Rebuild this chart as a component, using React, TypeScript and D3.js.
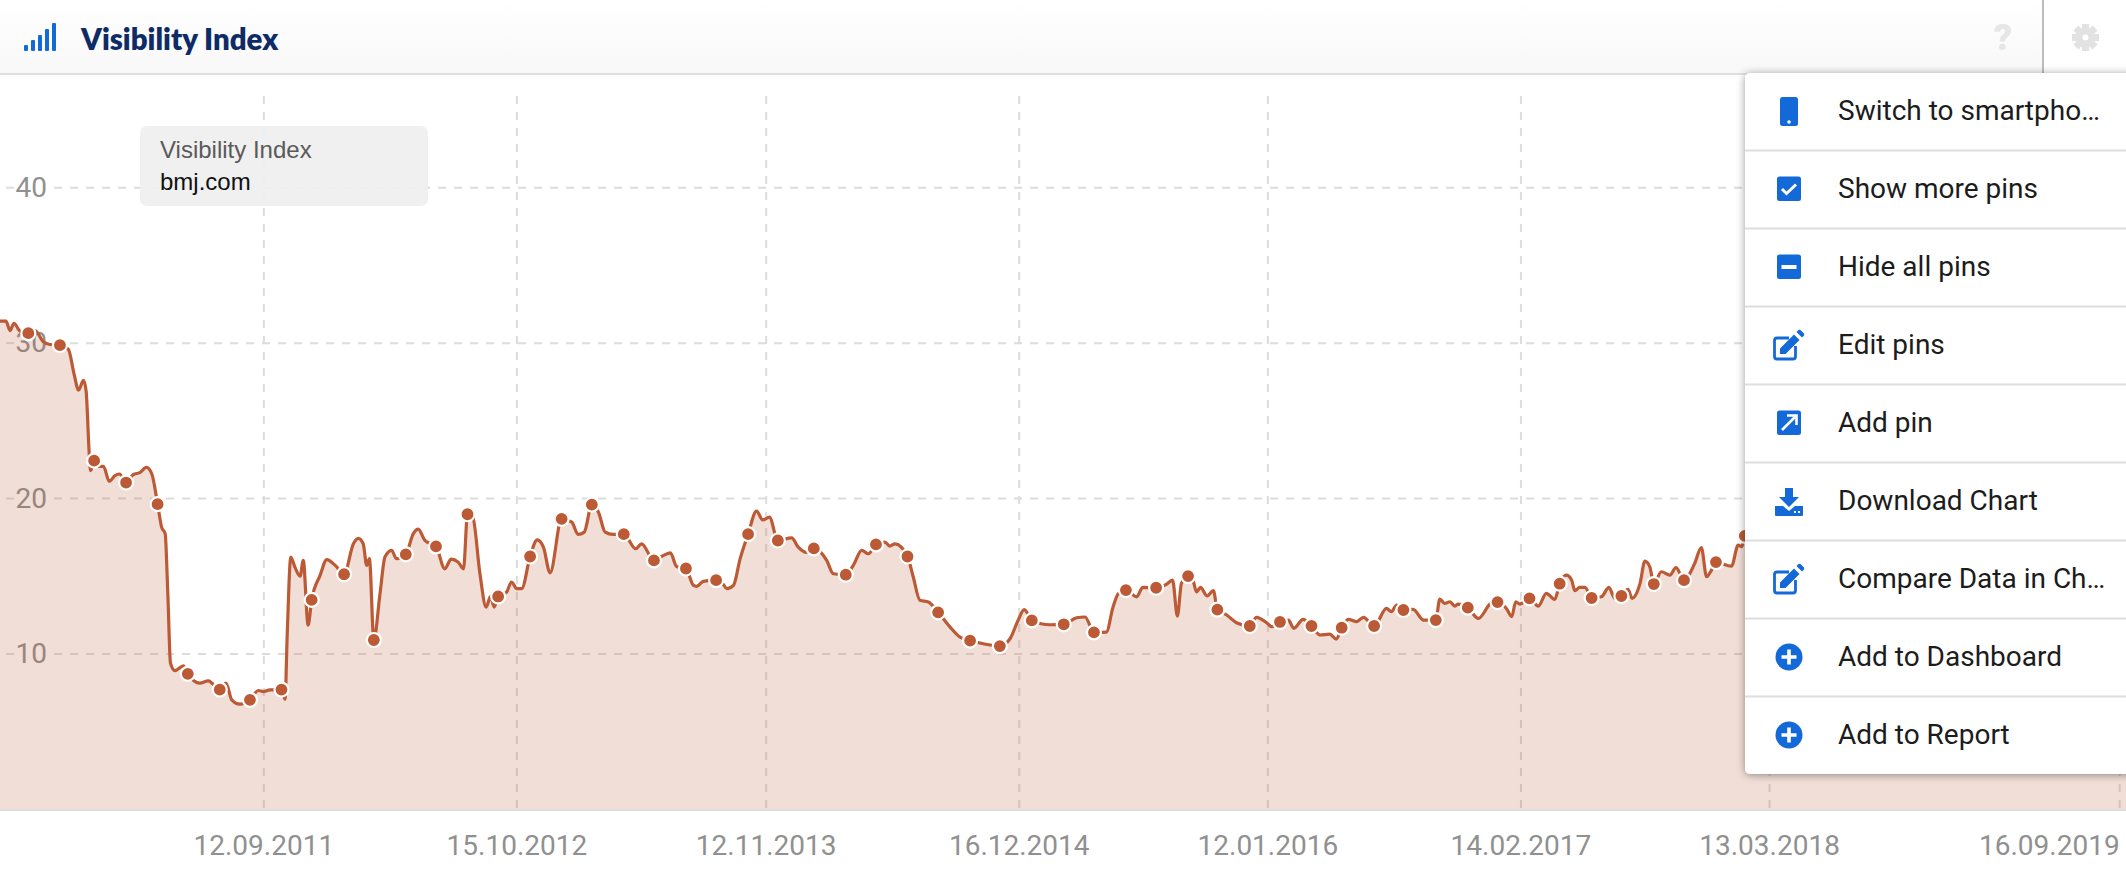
import React from "react";
import * as d3 from "d3";

const WIDTH = 2126;
const HEIGHT = 876;

const title = "Visibility Index";
const tooltipTitle = "Visibility Index";
const domainName = "bmj.com";
const yTicks = [10, 20, 30, 40];
const xTickDates = ["2011-09-12", "2012-10-15", "2013-11-12", "2014-12-16", "2016-01-12", "2017-02-14", "2018-03-13", "2019-09-16"];
const xDomain = ["2010-07-23", "2019-09-26"];
const menuLabels = ["Switch to smartpho…", "Show more pins", "Hide all pins", "Edit pins", "Add pin", "Download Chart", "Compare Data in Ch…", "Add to Dashboard", "Add to Report"];
const menuIcons = ["phone", "check", "minus", "edit", "arrow", "download", "edit", "plus", "plus"];

// weeks since the first sample
const weeks = [0,1.35,2.25,3.15,4.5,6.38,7.9,9.76,11.26,13.5,15.4,16.7,17.7,18.8,19.4,20.1,20.4,21.2,22.1,23.3,24.6,25.9,26.9,28.4,30,31.5,33,34.2,35.5,36.4,37.2,37.8,38.4,39.4,41.3,42.3,45,46.9,49.5,50.9,52.2,54.05,56.3,58.2,59.3,60.8,63.4,64.2,64.7,65.5,66.4,67.6,68.3,69.4,70.2,72.1,73.6,75.5,77.5,79.6,80.7,81.8,82.6,83.2,84.2,85.6,86.7,88.2,89.3,91.4,93.1,94.2,95.7,98.2,100.2,101.6,103.2,104.4,105.3,106.5,108.1,109.5,110.5,111.3,112.2,114.1,115.2,116.4,117.5,119.4,121,122.4,123.9,126.5,128.8,130.2,131.6,133.3,134.8,136.3,138.1,140.5,143.2,144.5,147.3,149.4,151,152.4,154.5,156.2,156.9,158.4,161.3,162.9,163.7,165.2,166.7,168.5,170.4,171.8,173.3,175.2,178.3,179.8,181.7,183.3,186.2,187.7,190.5,192.2,194.1,195.6,197.3,199.3,200.4,201.6,204.4,205.7,207.2,209.1,211.3,214,216.2,218.5,221.5,225.2,227.5,229.3,230.7,232.4,236.5,239.6,242.5,244.4,246.4,249.2,250.7,251.9,253.6,256,257.4,260.4,262.8,264.1,265.2,266.1,267.6,268.8,269.5,270.4,271.9,273.3,274.2,276.3,278.5,281.5,283,285.3,286.4,288.3,290.2,291.4,293.5,295.4,297.3,299.5,301,302.2,303.7,305.6,307.1,309.5,312.3,313.4,314.6,316.1,318.3,320.6,323.4,324.3,325.4,326.6,327.7,328.4,330.6,333,336,337.3,339.3,340.5,341.4,342.3,344.5,346.5,348.3,350.2,351.3,352.8,354,354.7,355.8,357,358.5,360.7,362.4,363.7,365.2,366.7,367.6,369.4,370.5,371.6,372.5,374.2,376.1,377.5,379.3,381.7,383.2,384.4,385.5,386.5,390,391.5,392.3,393,400,420,440,460,479];
const visibility = [31.41,31.41,30.81,31.28,30.77,30.64,30.81,30.09,29.91,29.87,29.6,27.99,26.97,27.6,26.9,22.86,21.8,22.44,22.07,22.07,21.11,21.47,21.58,21.03,21.54,21.67,22,21.58,19.64,18.16,17.74,13.89,9.4,8.93,9.23,8.72,8.12,8.27,7.71,8.12,7.05,6.77,7.05,7.65,7.58,7.69,7.71,7.09,11.32,16.24,15.6,15,16.03,11.86,13.48,15.06,16.07,15.7,15.13,17.09,17.44,17.09,15.7,16.13,10.9,13.89,16.24,16.67,16.13,16.41,17.74,18.03,17.31,16.92,15.48,16.1,15.91,15.48,18.99,18.8,15.16,13.02,13.7,13.02,13.7,13.98,14.63,14.2,14.2,16.27,17.34,16.87,15.22,18.69,18.48,17.69,17.84,19.61,19.12,17.84,17.69,17.71,16.77,17.09,16.02,16.34,16.51,15.63,15.5,14.41,14.35,14.67,14.75,14.48,14.2,14.41,16.12,17.71,19.19,18.63,18.8,17.3,17.47,16.87,16.53,16.79,16.02,15.16,15.1,15.7,16.66,16.45,17.05,17.2,16.94,17.09,16.27,14.95,13.45,13.34,12.68,11.73,11.09,10.86,10.66,10.51,10.98,12.16,12.85,12.16,11.88,11.91,12.33,12.38,11.39,11.41,13.02,13.88,14.11,13.68,14.28,14.26,14.5,14.75,12.44,14.54,15.01,14.65,14,14.28,13.73,14.07,12.85,12.51,12.01,11.8,12.36,12.01,11.76,12.06,12.18,11.65,12.23,11.8,11.22,11.28,10.96,11.69,12.23,12.08,12.36,11.8,12.93,12.72,13.15,12.83,12.87,12.18,12.18,13.53,13.25,13.36,13.08,13.21,12.98,12.29,13.3,13.34,12.93,12.4,13.36,13.21,13.58,13.08,13.9,13.51,14.52,15.07,14.75,14.07,14.28,14.28,13.6,13.68,14.28,13.58,13.73,14.15,13.58,14.54,15.97,15.61,14.5,15.29,15.07,15.55,14.75,15.82,16.85,14.97,15.4,15.91,15.65,17,16.9,17.6,19,21,23,24,25];

const pinWeeks = [6.38,13.5,21.2,28.4,35.5,42.3,49.5,56.3,63.4,70.2,77.5,84.2,91.4,98.2,105.3,112.2,119.4,126.5,133.3,140.5,147.3,154.5,161.3,168.5,175.2,183.3,190.5,197.3,204.4,211.3,218.5,225.2,232.4,239.6,246.4,253.6,260.4,267.6,274.2,281.5,288.3,295.4,302.2,309.5,316.1,323.4,330.6,337.3,344.5,351.3,358.5,365.2,372.5,379.3,386.5,393];
const pinValues = [30.64,29.87,22.44,21.03,19.64,8.72,7.71,7.05,7.71,13.48,15.13,10.9,16.41,16.92,18.99,13.7,16.27,18.69,19.61,17.71,16.02,15.5,14.75,17.71,17.3,16.79,15.1,17.05,16.27,12.68,10.86,10.51,12.16,11.91,11.39,14.11,14.26,15.01,12.85,11.8,12.06,11.8,11.69,11.8,12.83,12.18,12.98,13.34,13.58,14.52,13.6,13.73,14.5,14.75,15.91,17.6];

const BLUE = "#1469d8";
const LINE = "#bb5a35";
const parseDate = d3.timeParse("%Y-%m-%d");
const fmt = d3.timeFormat("%d.%m.%Y");
const startDate = parseDate(xDomain[0])!;
const weekDate = (w: number) => new Date(+startDate + w * 7 * 864e5);

const x = d3.scaleTime().domain(xDomain.map((d) => parseDate(d)!)).range([0, WIDTH]);
const y = d3.scaleLinear().domain([0, 40]).range([809.4, 187.7]);

const series = weeks.map((w, i) => ({ date: weekDate(w), value: visibility[i] }));
const lineGen = d3.line<{ date: Date; value: number }>().x((d) => x(d.date)).y((d) => y(d.value)).curve(d3.curveMonotoneX);
const areaGen = d3.area<{ date: Date; value: number }>().x((d) => x(d.date)).y0(y(0)).y1((d) => y(d.value)).curve(d3.curveMonotoneX);

const MENU_X = 1745;
const MENU_TOP = 73;
const MENU_BOTTOM = 774;
const ROW = 78;

function MenuIcon({ kind, cx, cy }: { kind: string; cx: number; cy: number }) {
  const t = `translate(${cx},${cy})`;
  if (kind === "phone")
    return (
      <g transform={t}>
        <rect x={-9} y={-14} width={18} height={29} rx={2.5} fill={BLUE} />
        <circle cx={0} cy={11} r={1.8} fill="#fff" />
      </g>
    );
  if (kind === "check")
    return (
      <g transform={t}>
        <rect x={-12} y={-12.5} width={24} height={24.5} rx={2.5} fill={BLUE} />
        <path d="M-7,0 L-2.5,4.5 L7,-4.5" fill="none" stroke="#fff" strokeWidth={3} />
      </g>
    );
  if (kind === "minus")
    return (
      <g transform={t}>
        <rect x={-12} y={-12.5} width={24} height={24.5} rx={2.5} fill={BLUE} />
        <rect x={-7.5} y={-2} width={15} height={4} fill="#fff" />
      </g>
    );
  if (kind === "edit")
    return (
      <g transform={t}>
        <path d="M0,-7 H-12 Q-14.5,-7 -14.5,-4.5 V11.5 Q-14.5,14 -12,14 H4 Q6.5,14 6.5,11.5 V1" fill="none" stroke={BLUE} strokeWidth={2.8} />
        <path d="M-9,9 V3.5 L5,-10.5 L10.5,-5 L-3.5,9 Z M7.5,-13 L9.5,-15 Q10.5,-15.5 11.5,-15 L15,-11.5 Q15.5,-10.5 15,-9.5 L13,-7.5 Z" fill={BLUE} />
      </g>
    );
  if (kind === "arrow")
    return (
      <g transform={t}>
        <rect x={-12} y={-12.5} width={24} height={24.5} rx={2.5} fill={BLUE} />
        <path d="M-7,7 L6,-6 M-2,-7.5 H7.5 V2" fill="none" stroke="#fff" strokeWidth={2.6} />
      </g>
    );
  if (kind === "download")
    return (
      <g transform={t}>
        <path d="M-4,-13 H4 V-4 H10 L0,6 L-10,-4 H-4 Z" fill={BLUE} />
        <path d="M-14,5 L-6,5 L0,10 L6,5 L14,5 V14 Q14,15 13,15 H-13 Q-14,15 -14,14 Z" fill={BLUE} />
        <rect x={5} y={10} width={2} height={2} fill="#fff" />
        <rect x={9} y={10} width={2} height={2} fill="#fff" />
      </g>
    );
  return (
    <g transform={t}>
      <circle r={13.5} fill={BLUE} />
      <path d="M-7.5,0 H7.5 M0,-7.5 V7.5" stroke="#fff" strokeWidth={3.6} />
    </g>
  );
}

const barHeights = [6, 11, 16, 22, 28];

export default function App() {
  const xTicks = xTickDates.map((d) => parseDate(d)!);
  const gearTeeth = d3.range(8).map((i) => i * 45);
  return (
    <svg width={WIDTH} height={HEIGHT} style={{ position: "absolute", left: 0, top: 0, display: "block", background: "#fff" }}>
      <defs>
        <linearGradient id="hdr" x1="0" y1="0" x2="0" y2="1">
          <stop offset="0" stopColor="#ffffff" />
          <stop offset="1" stopColor="#f8f8f8" />
        </linearGradient>
        <filter id="menuShadow" x="-10%" y="-10%" width="120%" height="120%">
          <feDropShadow dx="0" dy="1" stdDeviation="4" floodColor="#000" floodOpacity="0.4" />
        </filter>
        <clipPath id="plot">
          <rect x={0} y={75} width={WIDTH} height={735} />
        </clipPath>
      </defs>

      {/* grid */}
      {yTicks.map((t) => (
        <g key={t} stroke="#dcdcdc" strokeWidth={2} strokeDasharray="8 8">
          <line x1={6} x2={14} y1={y(t)} y2={y(t)} />
          <line x1={54} x2={WIDTH} y1={y(t)} y2={y(t)} />
        </g>
      ))}
      {xTicks.map((d) => (
        <line key={+d} x1={x(d)} x2={x(d)} y1={96} y2={809} stroke="#dcdcdc" strokeWidth={2} strokeDasharray="8 8" />
      ))}
      {yTicks.map((t) => (
        <text key={t} x={47} y={y(t) + 9} textAnchor="end" fontFamily="Roboto" fontSize={28} fill="#909090">
          {t}
        </text>
      ))}

      {/* series */}
      <g clipPath="url(#plot)">
        <path d={areaGen(series)!} fill={LINE} fillOpacity={0.2} />
        <path d={lineGen(series)!} fill="none" stroke={LINE} strokeWidth={3.2} strokeLinejoin="round" />
        {pinWeeks.map((w, i) => (
          <circle key={w} cx={x(weekDate(w))} cy={y(pinValues[i])} r={7} fill={LINE} stroke="#fff" strokeWidth={2.2} />
        ))}
      </g>

      {/* x axis */}
      <line x1={0} x2={WIDTH} y1={810} y2={810} stroke="#dcdcdc" strokeWidth={2} />
      {xTicks.map((d, i) => (
        <text
          key={+d}
          x={x(d)}
          y={855}
          textAnchor={i === xTicks.length - 1 ? "end" : "middle"}
          fontFamily="Roboto"
          fontSize={28}
          fill="#909090"
        >
          {fmt(d)}
        </text>
      ))}

      {/* pinned label */}
      <rect x={140} y={126} width={288} height={80} rx={7} fill="#efefef" fillOpacity={0.92} />
      <text x={160} y={158} fontFamily="Liberation Sans" fontSize={24} fill="#5a5a5a">
        {tooltipTitle}
      </text>
      <text x={160} y={190} fontFamily="Liberation Sans" fontSize={24} fill="#111">
        {domainName}
      </text>

      {/* header */}
      <rect x={0} y={0} width={2043} height={74} fill="url(#hdr)" />
      <line x1={0} x2={2043} y1={74} y2={74} stroke="#e0e0e0" strokeWidth={2} />
      <line x1={2043} x2={2043} y1={0} y2={74} stroke="#bdbdbd" strokeWidth={2} />
      {barHeights.map((h, i) => (
        <rect key={i} x={24 + i * 7} y={51 - h} width={4} height={h} rx={1} fill={BLUE} />
      ))}
      <text x={81} y={50} fontFamily="Lato" fontWeight={800} fontSize={29.4} fill="#0d2c66">
        {title}
      </text>
      <text x={2003} y={50} textAnchor="middle" fontFamily="Roboto" fontWeight={900} fontSize={36} fill="#e6e6e6">
        ?
      </text>
      <g transform="translate(2085.5,37.5)" fill="#e2e2e2">
        {gearTeeth.map((a) => (
          <rect key={a} x={-3.5} y={-13.5} width={7} height={7} transform={`rotate(${a})`} />
        ))}
        <circle r={6.5} fill="none" stroke="#e2e2e2" strokeWidth={7} />
      </g>

      {/* menu */}
      <rect x={MENU_X} y={MENU_TOP} width={WIDTH - MENU_X + 10} height={MENU_BOTTOM - MENU_TOP} rx={5} fill="#fff" filter="url(#menuShadow)" />
      {menuLabels.map((label, i) => {
        const cy = MENU_TOP + 38 + i * ROW;
        return (
          <g key={label}>
            {i > 0 && <line x1={MENU_X} x2={WIDTH} y1={cy - 38.5} y2={cy - 38.5} stroke="#dedede" strokeWidth={2} />}
            <MenuIcon kind={menuIcons[i]} cx={1789} cy={cy} />
            <text x={1838} y={cy + 9} fontFamily="Roboto" fontSize={28} fill="#1c1c1c">
              {label}
            </text>
          </g>
        );
      })}
    </svg>
  );
}
